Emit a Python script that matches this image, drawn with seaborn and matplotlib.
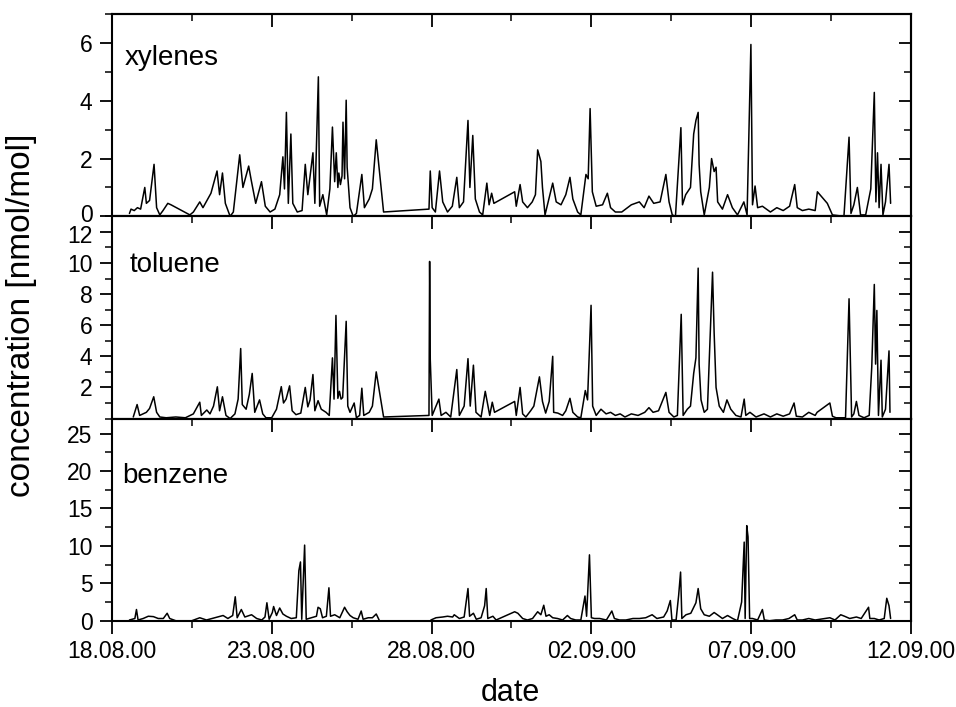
import numpy as np
import pandas as pd
import matplotlib
matplotlib.use("Agg")
import matplotlib.pyplot as plt
import matplotlib.dates as mdates
from matplotlib.ticker import FixedLocator, MultipleLocator, NullFormatter
from matplotlib.transforms import ScaledTranslation
import seaborn as sns

start = pd.Timestamp("2000-08-18")

# time in days since 18.08.00, values in nmol/mol
xyl_t = [0.55, 0.6, 0.7, 0.8, 0.9, 1.03, 1.08, 1.18, 1.32, 1.4, 1.5, 1.6, 1.75, 1.85, 2.44,
         2.55, 2.75, 2.85, 3.1, 3.29, 3.37, 3.46, 3.55, 3.7, 3.8, 4.0, 4.1, 4.28, 4.36, 4.5,
         4.68, 4.8, 4.95, 5.1, 5.25, 5.35, 5.4, 5.46, 5.52, 5.6, 5.66, 5.8, 5.95, 6.05, 6.13,
         6.29, 6.35, 6.46, 6.5, 6.6, 6.72, 6.82, 6.9, 6.97, 7.02, 7.07, 7.1, 7.15, 7.2, 7.23,
         7.28, 7.33, 7.36, 7.45, 7.55, 7.65, 7.82, 7.9, 8.05, 8.15, 8.27, 8.5, 9.92, 9.96, 10.02,
         10.12, 10.25, 10.35, 10.5, 10.65, 10.79, 10.87, 11.0, 11.14, 11.2, 11.29, 11.37, 11.5,
         11.6, 11.73, 11.8, 11.88, 11.95, 12.6, 12.65, 12.77, 12.85, 13.0, 13.15, 13.25, 13.32,
         13.42, 13.47, 13.55, 13.79, 13.9, 14.05, 14.2, 14.33, 14.42, 14.57, 14.67, 14.83, 14.9,
         14.96, 15.03, 15.15, 15.35, 15.5, 15.6, 15.75, 15.95, 16.25, 16.5, 16.65, 16.8, 16.95,
         17.15, 17.33, 17.43, 17.53, 17.63, 17.8, 17.85, 17.95, 18.1, 18.2, 18.27, 18.34, 18.37,
         18.42, 18.53, 18.69, 18.76, 18.84, 18.9, 18.95, 19.1, 19.26, 19.41, 19.57, 19.77, 19.87,
         19.99, 20.04, 20.12, 20.2, 20.35, 20.6, 20.8, 21.0, 21.2, 21.36, 21.44, 21.6, 21.8, 22.0,
         22.07, 22.38, 22.54, 22.9, 23.06, 23.12, 23.21, 23.32, 23.42, 23.58, 23.74, 23.85, 23.9,
         23.95, 24.0, 24.06, 24.12, 24.2, 24.31, 24.36]
xyl_v = [0.1, 0.25, 0.2, 0.3, 0.25, 1.0, 0.45, 0.55, 1.8, 0.3, 0.05, 0.2, 0.45, 0.4, 0.05,
         0.15, 0.5, 0.3, 0.8, 1.57, 0.75, 1.5, 0.45, 0.0, 0.15, 2.13, 1.0, 1.74, 1.25, 0.45,
         1.2, 0.35, 0.15, 0.25, 0.75, 2.06, 0.95, 3.6, 0.45, 2.85, 0.45, 0.15, 0.2, 1.8, 0.75,
         2.2, 0.45, 4.83, 0.35, 0.75, 0.05, 0.95, 3.09, 1.2, 2.2, 1.0, 1.5, 1.1, 1.4, 3.26,
         1.3, 4.02, 1.7, 0.3, 0.0, 0.1, 1.45, 0.3, 0.6, 0.95, 2.65, 0.15, 0.25, 1.57, 0.3,
         0.15, 1.57, 0.5, 0.15, 0.35, 1.35, 0.3, 0.5, 3.32, 1.0, 2.8, 0.6, 0.15,
         0.05, 1.15, 0.4, 0.8, 0.45, 0.85, 0.35, 1.1, 0.5, 0.3, 0.5, 0.75, 2.3,
         1.9, 1.0, 0.05, 1.15, 0.5, 0.4, 0.75, 1.35, 0.6, 0.15, 0.05, 1.45, 1.3,
         3.73, 0.85, 0.35, 0.4, 0.8, 0.3, 0.15, 0.15, 0.4, 0.5, 0.3, 0.7, 0.45,
         0.5, 1.45, 0.5, 0.05, 0.0, 3.07, 0.4, 0.75, 1.0, 2.85, 3.32, 3.6, 1.8,
         0.85, 0.05, 1.0, 2.0, 1.55, 1.7, 0.5, 0.25, 0.75, 0.3, 0.05, 0.5, 0.05,
         5.95, 0.4, 1.05, 0.3, 0.35, 0.15, 0.3, 0.2, 0.35, 1.1, 0.3, 0.2, 0.25, 0.2,
         0.85, 0.45, 0.05, 0.0, 2.74, 0.1, 0.4, 1.0, 0.05, 0.05, 0.95, 4.29, 0.5,
         2.2, 0.3, 1.8, 0.05, 0.5, 1.8, 0.45]

tol_t = [0.67, 0.79, 0.87, 1.08, 1.18, 1.31, 1.4, 1.5, 1.7, 2.0, 2.3, 2.55, 2.75, 2.8, 2.97,
         3.07, 3.18, 3.3, 3.37, 3.46, 3.57, 3.7, 3.85, 3.95, 4.03, 4.08, 4.2, 4.3, 4.39, 4.47,
         4.62, 4.72, 4.82, 5.0, 5.15, 5.3, 5.37, 5.45, 5.56, 5.64, 5.76, 5.91, 6.05, 6.13, 6.2,
         6.29, 6.35, 6.45, 6.55, 6.7, 6.8, 6.9, 6.95, 7.01, 7.07, 7.12, 7.17, 7.22, 7.33, 7.38,
         7.45, 7.58, 7.65, 7.75, 7.82, 7.88, 8.05, 8.15, 8.27, 8.5, 9.92, 9.94, 9.96, 10.02,
         10.23, 10.3, 10.45, 10.6, 10.79, 10.87, 11.02, 11.14, 11.21, 11.31, 11.39, 11.55, 11.68,
         11.73, 11.82, 11.9, 11.97, 12.6, 12.65, 12.77, 12.85, 12.95, 13.1, 13.2, 13.375, 13.47,
         13.57, 13.68, 13.79, 13.82, 13.95, 14.1, 14.2, 14.33, 14.42, 14.57, 14.67, 14.81, 14.88,
         14.99, 15.04, 15.15, 15.3, 15.46, 15.6, 15.75, 15.9, 16.05, 16.25, 16.46, 16.67, 16.8,
         16.93, 17.1, 17.33, 17.43, 17.58, 17.69, 17.81, 17.87, 18.0, 18.1, 18.2, 18.27, 18.34,
         18.37, 18.43, 18.53, 18.63, 18.79, 18.84, 18.9, 19.0, 19.13, 19.24, 19.36, 19.52, 19.68,
         19.78, 19.83, 19.96, 20.15, 20.4, 20.6, 20.8, 21.0, 21.2, 21.34, 21.41, 21.6, 21.8, 22.0,
         22.06, 22.46, 22.54, 22.65, 22.95, 23.06, 23.09, 23.14, 23.21, 23.29, 23.37, 23.53,
         23.69, 23.77, 23.85, 23.89, 23.93, 23.98, 24.06, 24.1, 24.2, 24.31, 24.34]
tol_v = [0.1, 0.9, 0.2, 0.4, 0.65, 1.4, 0.4, 0.1, 0.05, 0.1, 0.05, 0.3, 1.05, 0.2, 0.55,
         0.3, 0.8, 2.04, 0.5, 1.4, 0.2, 0.0, 0.3, 1.25, 4.5, 0.9, 0.6, 1.55, 2.9, 0.4,
         1.2, 0.3, 0.05, 0.05, 0.6, 2.05, 1.0, 1.25, 2.1, 0.5, 0.25, 0.35, 2.0, 0.75, 1.2,
         2.83, 0.5, 1.15, 0.6, 0.4, 0.2, 3.9, 1.25, 6.63, 1.3, 1.75, 1.25, 1.35, 6.25, 0.8,
         0.4, 1.0, 0.05, 0.2, 1.95, 0.2, 0.4, 0.8, 3.0, 0.1, 0.2, 10.1, 3.8, 0.2,
         1.25, 0.2, 0.4, 0.1, 3.15, 0.2, 0.8, 3.85, 0.8, 3.43, 0.4, 0.1, 1.75,
         1.2, 0.2, 1.05, 0.4, 1.1, 0.2, 2.0, 0.3, 0.1, 0.5, 0.8, 2.68, 1.1,
         0.35, 1.1, 4.0, 0.4, 0.35, 0.2, 0.5, 1.3, 0.4, 0.1, 0.05, 1.8, 1.2,
         7.28, 0.8, 0.2, 0.6, 0.3, 0.4, 0.2, 0.3, 0.1, 0.3, 0.2, 0.4, 0.7,
         0.4, 0.5, 1.68, 0.4, 0.1, 0.2, 6.7, 0.2, 0.6, 0.8, 2.9, 3.9, 9.67,
         3.5, 1.2, 0.4, 0.6, 9.41, 5.5, 2.0, 0.8, 0.4, 1.2, 0.6, 0.2, 0.1,
         1.25, 0.2, 0.4, 0.1, 0.3, 0.1, 0.3, 0.15, 0.3, 1.0, 0.15, 0.1, 0.4, 0.2,
         0.4, 1.0, 0.15, 0.05, 0.05, 7.7, 4.8, 0.1, 0.3, 1.1, 0.2, 0.05,
         0.2, 3.3, 8.62, 3.5, 6.95, 0.2, 3.75, 0.1, 0.6, 4.35, 0.4]

ben_t = [0.55, 0.72, 0.77, 0.82, 0.98, 1.14, 1.3, 1.45, 1.61, 1.73, 1.81, 2.0, 2.5, 2.75, 2.96,
         3.22, 3.48, 3.63, 3.78, 3.86, 3.92, 4.05, 4.16, 4.37, 4.53, 4.69, 4.79, 4.85, 4.92, 5.02,
         5.06, 5.15, 5.25, 5.35, 5.46, 5.61, 5.77, 5.85, 5.9, 5.94, 6.03, 6.08, 6.24, 6.4, 6.45,
         6.52, 6.59, 6.71, 6.79, 6.84, 6.97, 7.13, 7.28, 7.36, 7.45, 7.55, 7.7, 7.8, 7.86, 8.02,
         8.15, 8.27, 8.36,
         9.98, 10.14, 10.35, 10.5, 10.66, 10.71, 10.87, 11.02, 11.14, 11.19, 11.31, 11.4, 11.55,
         11.66, 11.71, 11.76, 11.92, 12.02, 12.6, 12.7, 12.85, 13.0, 13.16, 13.32, 13.42, 13.51,
         13.58, 13.68, 13.79, 13.94, 14.1, 14.25, 14.35, 14.51, 14.67, 14.8, 14.85, 14.94, 15.0,
         15.1, 15.26, 15.47, 15.64, 15.72, 15.88, 16.08, 16.3, 16.5, 16.7, 16.9, 17.05, 17.26,
         17.37, 17.47, 17.52, 17.65, 17.73, 17.79, 17.83, 17.96, 18.11, 18.27, 18.34, 18.42,
         18.53, 18.69, 18.84, 18.94, 19.1, 19.26, 19.42, 19.57, 19.7, 19.78, 19.81, 19.86, 19.9,
         19.95, 20.04, 20.2, 20.35, 20.41, 20.57, 20.77, 20.98, 21.18, 21.36, 21.44, 21.6, 21.8,
         22.0, 22.46, 22.62, 22.8, 22.92, 23.08, 23.29, 23.44, 23.67, 23.71, 23.85, 24.0, 24.16,
         24.24, 24.31, 24.36]
ben_v = [0.1, 0.3, 1.5, 0.1, 0.3, 0.6, 0.55, 0.3, 0.3, 1.0, 0.3, 0.0, 0.0, 0.4, 0.1,
         0.4, 0.7, 0.3, 0.7, 3.2, 0.4, 1.5, 0.5, 0.8, 0.3, 0.1, 0.5, 2.4, 0.2, 1.1,
         1.9, 0.7, 1.7, 0.9, 0.6, 0.3, 0.4, 6.7, 7.85, 0.2, 10.1, 0.2, 0.4, 0.6, 1.8,
         1.6, 0.4, 0.6, 4.4, 0.6, 0.8, 0.4, 1.8, 1.2, 0.7, 0.4, 0.2, 1.3, 0.2, 0.4,
         0.4, 0.9, 0.1,
         0.1, 0.4, 0.5, 0.6, 0.5, 0.8, 0.3, 0.5, 4.3, 0.6, 1.0, 0.2, 0.4,
         2.0, 4.3, 0.3, 0.6, 0.1, 1.2, 1.0, 0.3, 0.1, 0.3, 1.2, 0.8, 2.07,
         0.6, 0.8, 0.4, 0.3, 0.1, 0.7, 0.3, 0.1, 0.1, 3.3, 0.6, 8.8, 0.4,
         0.3, 0.3, 0.1, 1.3, 0.3, 0.1, 0.1, 0.3, 0.3, 0.4, 0.8, 0.3, 0.5,
         1.3, 2.7, 0.1, 0.1, 3.4, 6.5, 0.3, 0.8, 1.0, 2.4, 4.3, 1.6,
         0.8, 0.6, 1.1, 0.8, 0.3, 0.7, 0.3, 0.0, 2.5, 10.5, 0.3, 12.7, 11.2,
         0.3, 0.3, 0.1, 1.5, 0.1, 0.0, 0.1, 0.1, 0.3, 0.8, 0.1, 0.1, 0.3,
         0.1, 0.4, 0.1, 0.8, 0.6, 0.3, 0.5, 0.3, 1.8, 0.3, 0.3, 0.1, 0.3,
         3.0, 2.0, 0.3]
ben_gap = 9.0  # no benzene data between 26.08 and 28.08

names = ["xylenes", "toluene", "benzene"]


def to_frame(t, v):
    t = np.asarray(t, dtype=float)
    return pd.DataFrame({"date": start + pd.to_timedelta(t, unit="D"),
                         "value": v,
                         "seg": (t > ben_gap).astype(int)})


frames = [to_frame(xyl_t, xyl_v), to_frame(tol_t, tol_v), to_frame(ben_t, ben_v)]
frames[0]["seg"] = 0
frames[1]["seg"] = 0

sns.set_style("ticks")
plt.rcParams["font.family"] = ["Liberation Sans", "DejaVu Sans"]
plt.rcParams["text.color"] = "black"
plt.rcParams["axes.labelcolor"] = "black"

fig, axes = plt.subplots(3, 1, figsize=(9.56, 7.07), dpi=100, sharex=True)
fig.subplots_adjust(left=0.117, right=0.953, top=0.980, bottom=0.122, hspace=0)

ylims = [(0, 7), (0, 13), (0, 27)]
ymajor = [[0, 2, 4, 6], [2, 4, 6, 8, 10, 12], [0, 5, 10, 15, 20, 25]]
yminor = [1, 1, 2.5]
label_pos = [(0.016, 0.748), (0.0225, 0.723), (0.0125, 0.68)]

x_major = mdates.date2num(pd.date_range(start, periods=6, freq="5D"))
x_minor = mdates.date2num(pd.date_range(start, periods=11, freq="60h"))

for i, ax in enumerate(axes):
    sns.lineplot(data=frames[i], x="date", y="value", units="seg", estimator=None,
                 sort=False, color="black", linewidth=1.1, ax=ax)
    ax.set_xlim(start, start + pd.Timedelta(days=25))
    ax.set_ylim(*ylims[i])
    ax.set_xlabel("")
    ax.set_ylabel("")
    ax.yaxis.set_major_locator(FixedLocator(ymajor[i]))
    ax.yaxis.set_minor_locator(MultipleLocator(yminor[i]))
    ax.xaxis.set_major_locator(FixedLocator(x_major))
    ax.xaxis.set_minor_locator(FixedLocator(x_minor))
    ax.xaxis.set_major_formatter(mdates.DateFormatter("%d.%m.%y"))
    for s in ax.spines.values():
        s.set_visible(True)
        s.set_linewidth(1.5)
        s.set_color("black")
    ax.tick_params(which="both", direction="out", colors="black", labelcolor="black",
                   labelsize=16.5, top=False, right=False)
    ax.tick_params(which="major", length=9, width=1.3)
    ax.tick_params(which="minor", length=5, width=1.1)
    ax.tick_params(axis="y", pad=5)
    ax.tick_params(axis="x", pad=5)

    # top and right ticks point inward
    sx = ax.secondary_xaxis("top")
    sx.xaxis.set_major_locator(FixedLocator(x_major))
    sx.xaxis.set_minor_locator(FixedLocator(x_minor))
    sx.xaxis.set_major_formatter(NullFormatter())
    sx.tick_params(which="both", direction="in", colors="black")
    sx.tick_params(which="major", length=9, width=1.3)
    sx.tick_params(which="minor", length=5, width=1.1)
    sx.spines["top"].set_linewidth(1.5)

    sy = ax.secondary_yaxis("right")
    sy.yaxis.set_major_locator(FixedLocator(ymajor[i]))
    sy.yaxis.set_minor_locator(MultipleLocator(yminor[i]))
    sy.yaxis.set_major_formatter(NullFormatter())
    sy.tick_params(which="both", direction="in", colors="black")
    sy.tick_params(which="major", length=9, width=1.3)
    sy.tick_params(which="minor", length=5, width=1.1)
    sy.spines["right"].set_linewidth(1.5)

    ax.text(label_pos[i][0], label_pos[i][1], names[i], transform=ax.transAxes,
            fontsize=20, va="baseline", ha="left", color="black")

# the "0" of xylenes and the "12" of toluene sit close at the shared edge
nudge = {0: 3, 1: -2}
for i, dy in nudge.items():
    tick = axes[i].yaxis.get_major_ticks()[0 if i == 0 else -1]
    lab = tick.label1
    lab.set_transform(lab.get_transform() + ScaledTranslation(0, dy / 100, fig.dpi_scale_trans))

fig.text(0.023, 0.554, "concentration [nmol/mol]", rotation=90, fontsize=24,
         va="center", ha="center", color="black")
fig.text(0.534, 0.008, "date", fontsize=22, va="baseline", ha="center", color="black")

fig.savefig("out.png", dpi=100)
